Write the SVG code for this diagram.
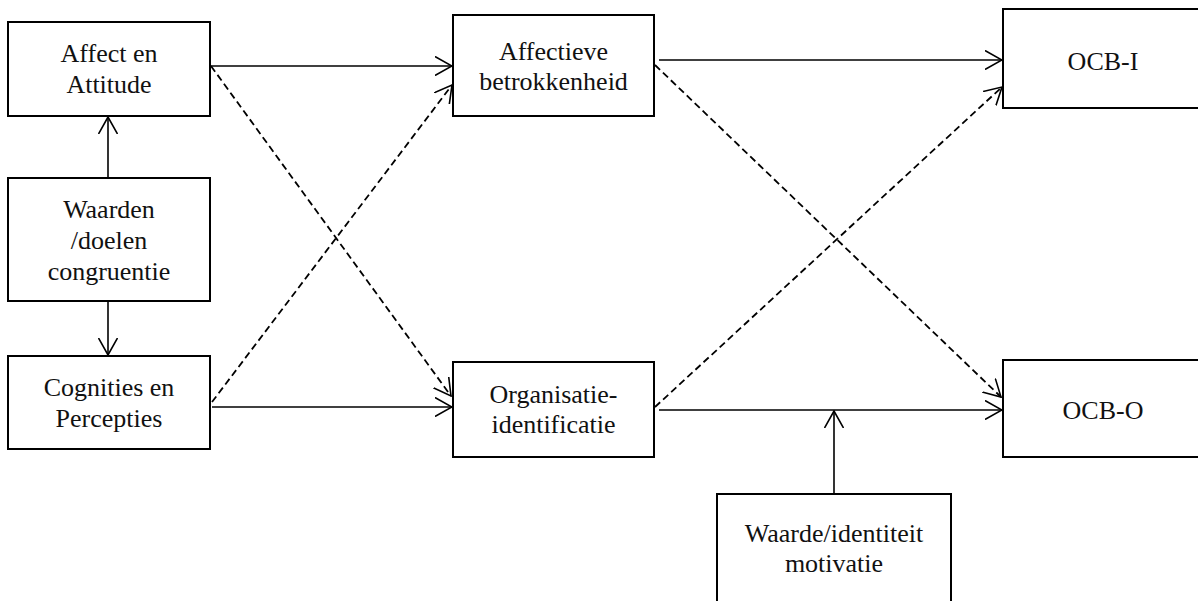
<svg xmlns="http://www.w3.org/2000/svg" width="1198" height="601" viewBox="0 0 1198 601">
<style>
.box{fill:#fff;stroke:#000;stroke-width:2}
text{font-family:'Liberation Serif','Times New Roman',serif;font-size:26px;fill:#111;text-anchor:middle}
.ln{fill:none;stroke:#000;stroke-width:1.6;marker-end:url(#ah)}
.dash{stroke-dasharray:7,4;stroke-width:1.8}
</style>
<defs>
<marker id="ah" markerUnits="userSpaceOnUse" viewBox="0 0 18 20" refX="17" refY="10" markerWidth="18" markerHeight="20" orient="auto">
<path d="M0,0.5 L17,10 L0,19.5" fill="none" stroke="#000" stroke-width="1.6" stroke-dasharray="none"/>
</marker>
</defs>
<rect width="1198" height="601" fill="#fff"/>
<g id="connectors">
<line class="ln" x1="108" y1="178" x2="108" y2="117"/>
<line class="ln" x1="108" y1="301" x2="108" y2="355"/>
<line class="ln" x1="210" y1="66" x2="452" y2="66"/>
<line class="ln" x1="212" y1="407" x2="452" y2="407"/>
<line class="ln dash" x1="211" y1="66" x2="451" y2="396"/>
<line class="ln dash" x1="212" y1="402" x2="452" y2="85"/>
<line class="ln" x1="659" y1="60" x2="1002" y2="60"/>
<line class="ln" x1="659" y1="410" x2="1002" y2="410"/>
<line class="ln dash" x1="655" y1="65" x2="1001" y2="397"/>
<line class="ln dash" x1="655" y1="407" x2="1002" y2="87"/>
<line class="ln" x1="834" y1="494" x2="834" y2="411"/>
</g>
<g id="affect">
<rect class="box" x="8" y="22" width="202" height="94"/>
<text x="109" y="62">Affect en</text>
<text x="109" y="93">Attitude</text>
</g>
<g id="waarden">
<rect class="box" x="8" y="178" width="202" height="123"/>
<text x="109" y="218">Waarden</text>
<text x="109" y="249">/doelen</text>
<text x="109" y="280">congruentie</text>
</g>
<g id="cognities">
<rect class="box" x="8" y="356" width="202" height="93"/>
<text x="109" y="396">Cognities en</text>
<text x="109" y="427">Percepties</text>
</g>
<g id="affectieve">
<rect class="box" x="453" y="15" width="201" height="101"/>
<text x="553.5" y="60">Affectieve</text>
<text x="553.5" y="90">betrokkenheid</text>
</g>
<g id="organisatie">
<rect class="box" x="453" y="362" width="201" height="95"/>
<text x="553.5" y="403">Organisatie-</text>
<text x="553.5" y="433">identificatie</text>
</g>
<g id="ocbi">
<rect class="box" x="1003" y="9" width="200" height="99"/>
<text x="1103" y="70">OCB-I</text>
</g>
<g id="ocbo">
<rect class="box" x="1003" y="360" width="200" height="97"/>
<text x="1103" y="419">OCB-O</text>
</g>
<g id="motivatie">
<rect class="box" x="717" y="494" width="234" height="120"/>
<text x="834" y="542">Waarde/identiteit</text>
<text x="834" y="572">motivatie</text>
</g>
</svg>
